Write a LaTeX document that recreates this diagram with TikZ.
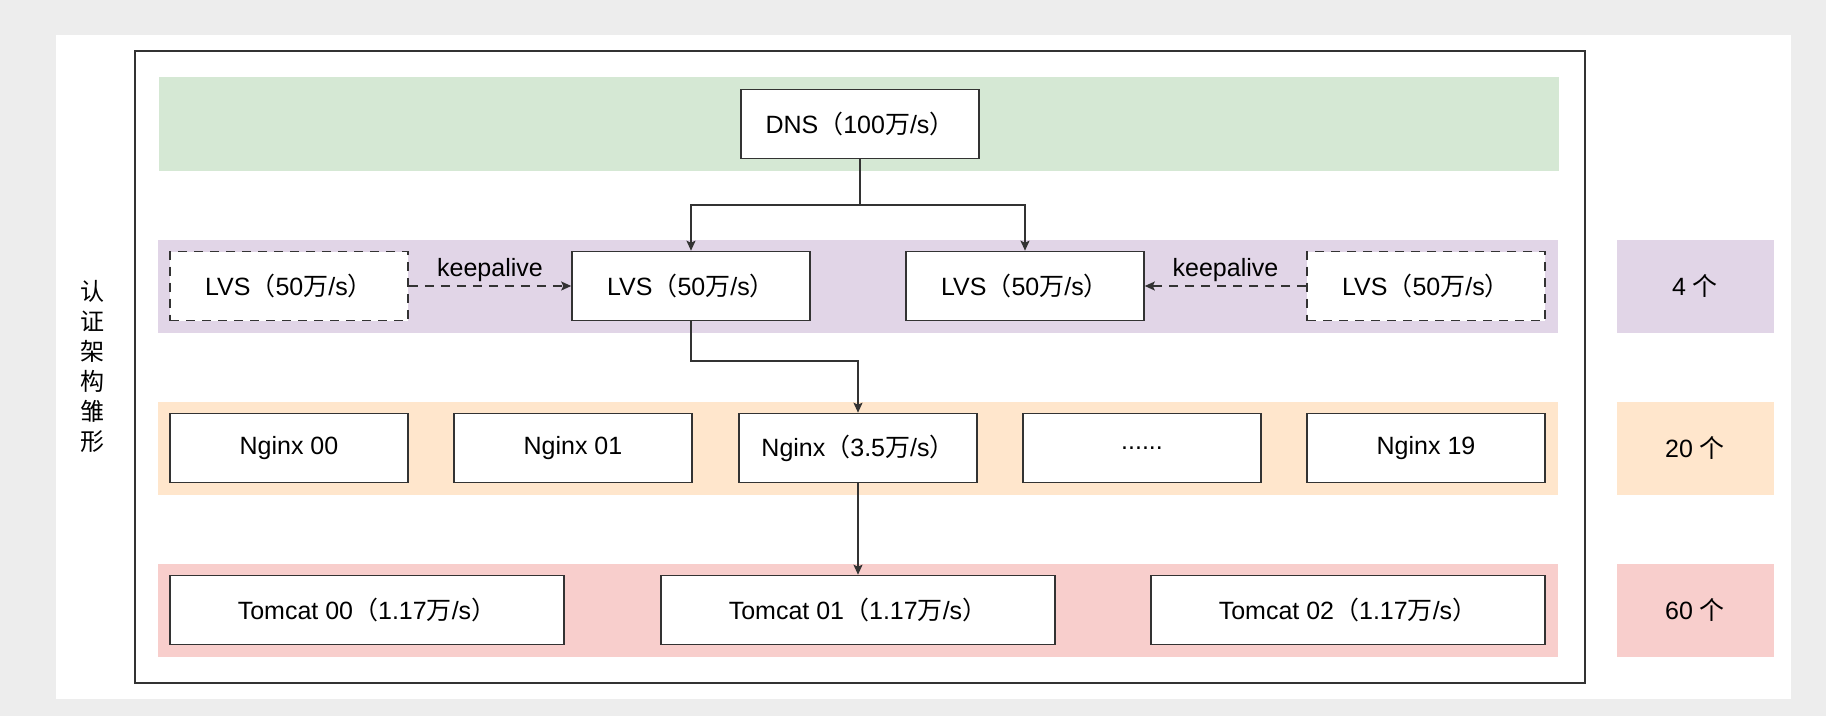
\documentclass[tikz,border=0pt]{standalone}
\usepackage{fontspec}
\setmainfont{Liberation Sans}
\newfontfamily\cjk{Noto Sans CJK SC}
\newcommand{\zh}[1]{{\cjk #1}}
\usetikzlibrary{arrows.meta}
\definecolor{bggray}{HTML}{EDEDED}
\definecolor{dnsgreen}{HTML}{D5E8D4}
\definecolor{lvspurple}{HTML}{E1D5E7}
\definecolor{nginxorange}{HTML}{FFE6CC}
\definecolor{tomcatred}{HTML}{F8CECC}
\definecolor{linegray}{HTML}{333333}

\begin{document}
\begin{tikzpicture}[x=1pt,y=-1pt,
  box/.style={draw=linegray, fill=white, line width=1.6pt, minimum width=238pt, minimum height=69pt, inner sep=0pt, font=\fontsize{25}{30}\selectfont},
  dashbox/.style={box, dash pattern=on 9pt off 7pt},
  widebox/.style={box, minimum width=394pt},
  count/.style={minimum width=157pt, minimum height=93pt, inner sep=0pt, font=\fontsize{25}{30}\selectfont},
  arr/.style={draw=linegray, line width=1.4pt, -{Stealth[length=10pt,width=9pt,inset=2pt]}},
  keep/.style={arr, dash pattern=on 9pt off 7pt}]

\useasboundingbox (0,0) rectangle (1826,716);
\fill[bggray] (0,0) rectangle (1826,716);
\fill[white] (56,35) rectangle (1791,699);
\draw[linegray, line width=1.6pt] (135,51) rectangle (1585,683);
\node[font=\fontsize{24}{30}\selectfont\cjk, align=center] (title) at (92,366) {认\\证\\架\\构\\雏\\形};

\fill[dnsgreen] (159,77) rectangle (1559,171);
\node[box] (dns) at (860,124) {DNS\zh{（}100\zh{万}/s\zh{）}};

\fill[lvspurple] (158,240) rectangle (1558,333);
\node[dashbox] (lvs1) at (289,286) {LVS\zh{（}50\zh{万}/s\zh{）}};
\node[box] (lvs2) at (691,286) {LVS\zh{（}50\zh{万}/s\zh{）}};
\node[box] (lvs3) at (1025,286) {LVS\zh{（}50\zh{万}/s\zh{）}};
\node[dashbox] (lvs4) at (1426,286) {LVS\zh{（}50\zh{万}/s\zh{）}};
\node[count, fill=lvspurple] (n4) at (1695,286) {4 \zh{个}};

\fill[nginxorange] (158,402) rectangle (1558,495);
\node[box] (ng0) at (289,448) {Nginx 00};
\node[box] (ng1) at (573,448) {Nginx 01};
\node[box] (ng2) at (858,448) {Nginx\zh{（}3.5\zh{万}/s\zh{）}};
\node[box] (ng3) at (1142,448) {......};
\node[box] (ng4) at (1426,448) {Nginx 19};
\node[count, fill=nginxorange] (n20) at (1695,448) {20 \zh{个}};

\fill[tomcatred] (158,564) rectangle (1558,657);
\node[widebox] (tc0) at (367,610) {Tomcat 00\zh{（}1.17\zh{万}/s\zh{）}};
\node[widebox] (tc1) at (858,610) {Tomcat 01\zh{（}1.17\zh{万}/s\zh{）}};
\node[widebox] (tc2) at (1348,610) {Tomcat 02\zh{（}1.17\zh{万}/s\zh{）}};
\node[count, fill=tomcatred] (n60) at (1695,610) {60 \zh{个}};

\coordinate (split) at (860,205);
\coordinate (turn) at (691,361);
\draw[arr] (dns) -- (split) -| (lvs2);
\draw[arr] (split) -| (lvs3);
\draw[keep] (lvs1) -- node[above, font=\fontsize{25}{30}\selectfont]{keepalive} (lvs2);
\draw[keep] (lvs4) -- node[above, font=\fontsize{25}{30}\selectfont]{keepalive} (lvs3);
\draw[arr] (lvs2) -- (turn) -| (ng2);
\draw[arr] (ng2) -- (tc1);

\end{tikzpicture}
\end{document}
